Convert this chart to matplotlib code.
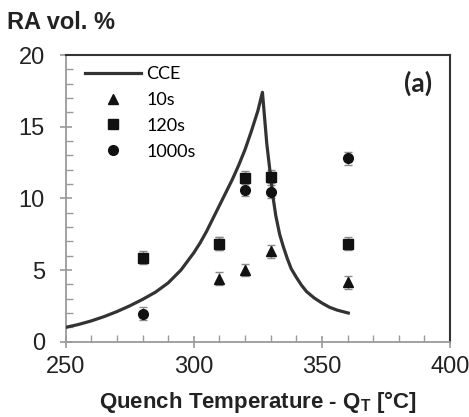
import numpy as np
import matplotlib
matplotlib.use("Agg")
import matplotlib.pyplot as plt
from matplotlib.ticker import MultipleLocator

# CCE curve
cce_t = [250, 255, 260, 265, 270, 275, 280, 285, 290, 295, 300, 302.5, 305, 307.5, 310, 312.5, 315, 317.5,
         320, 322.5, 325, 326.8,
         328.5, 330, 331, 332, 333.5, 335, 336.5, 338, 340, 342, 344, 347, 350, 353, 356, 360.3]
cce_ra = [1.0, 1.2, 1.45, 1.75, 2.1, 2.5, 2.95, 3.45, 4.1, 5.0, 6.2, 6.9, 7.7, 8.6, 9.5, 10.4, 11.3, 12.3,
          13.4, 14.7, 16.1, 17.4,
          13.8, 11.5, 10.0, 8.8, 7.5, 6.6, 5.8, 5.1, 4.5, 3.95, 3.5, 3.05, 2.7, 2.4, 2.2, 2.0]

# measured points
t_10s = [310, 320, 330, 360]
ra_10s = [4.4, 5.0, 6.3, 4.15]
t_120s = [280, 310, 320, 330, 360]
ra_120s = [5.85, 6.85, 11.45, 11.5, 6.85]
t_1000s = [280, 310, 320, 330, 360]
ra_1000s = [1.95, 6.85, 10.6, 10.45, 12.8]
err = 0.45

fig = plt.figure(figsize=(4.69, 4.17), dpi=100)
ax = fig.add_axes([0.140, 0.1806, 0.8195, 0.6874])

ax.plot(cce_t, cce_ra, color="#333333", lw=2.3, label="CCE", zorder=3)
ekw = dict(fmt="none", ecolor="#8a8a8a", elinewidth=1.0, capsize=3, capthick=1.0, zorder=2)
ax.errorbar(t_10s, ra_10s, yerr=err, **ekw)
ax.errorbar(t_120s, ra_120s, yerr=err, **ekw)
ax.errorbar(t_1000s, ra_1000s, yerr=err, **ekw)
ax.plot(t_10s, ra_10s, "^", color="#111111", ms=6.5, ls="none", label="10s", zorder=4)
ax.plot(t_120s, ra_120s, "s", color="#111111", ms=7, ls="none", label="120s", zorder=4)
ax.plot(t_1000s, ra_1000s, "o", color="#111111", ms=7, ls="none", label="1000s", zorder=4)

ax.set_xlim(250, 400)
ax.set_ylim(0, 20)
ax.xaxis.set_major_locator(MultipleLocator(50))
ax.xaxis.set_minor_locator(MultipleLocator(10))
ax.yaxis.set_major_locator(MultipleLocator(5))
ax.yaxis.set_minor_locator(MultipleLocator(1))

for s in ["left", "bottom"]:
    ax.spines[s].set_color("#9a9a9a")
    ax.spines[s].set_linewidth(1.3)
for s in ["top", "right"]:
    ax.spines[s].set_color("#333333")
    ax.spines[s].set_linewidth(1.5)

ax.tick_params(which="major", direction="inout", length=8, width=1.2, color="#9a9a9a",
               labelsize=17, labelcolor="#222222")
ax.tick_params(axis="x", which="major", pad=6)
ax.tick_params(axis="y", which="major", pad=11)
ax.tick_params(which="minor", direction="in", length=5, width=1.0, color="#9a9a9a")
for lab in ax.get_xticklabels() + ax.get_yticklabels():
    lab.set_family("Liberation Sans")

ax.set_xlabel("Quench Temperature - Q$_\\mathregular{T}$ [°C]", family="Liberation Sans",
              fontweight="bold", fontsize=16, labelpad=8, color="#222222")
fig.text(0.015, 0.945, "RA vol. %", family="Liberation Sans", fontweight="bold",
         fontsize=17, ha="left", va="center", color="#222222")
ax.text(0.953, 0.903, "(a)", transform=ax.transAxes, family="Lato", fontweight="bold",
        fontsize=19, ha="right", va="center", color="#222222")

leg = ax.legend(loc="upper left", frameon=False, prop={"family": "Lato", "size": 13},
                handlelength=3.1, handletextpad=0.3, labelspacing=0.55,
                borderpad=0, borderaxespad=0, bbox_to_anchor=(0.05, 0.962))

fig.savefig("out.png", dpi=100)
